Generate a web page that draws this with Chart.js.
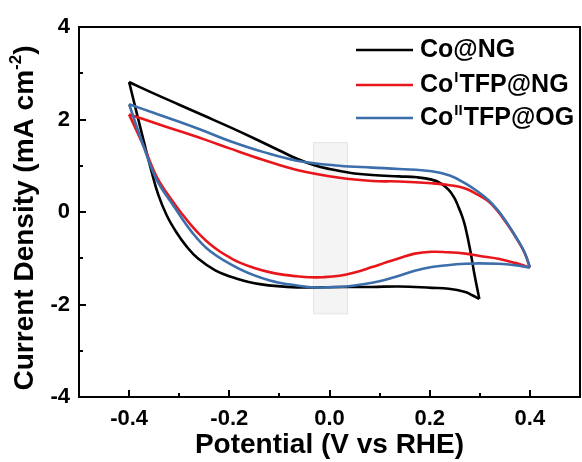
<!DOCTYPE html>
<html>
<head>
<meta charset="utf-8">
<script src="https://cdn.jsdelivr.net/npm/chart.js@4.4.1/dist/chart.umd.min.js"></script>
<style>
  html, body { margin: 0; padding: 0; background: #fff; }
  #wrap { width: 582px; height: 462px; position: relative; }
</style>
</head>
<body>
<div id="wrap"><canvas id="cvChart"></canvas></div>
<script>
// CV curves, potential (V vs RHE) / current density (mA cm-2)

// Co@NG
const coNG_upV = [-0.40, -0.35, -0.30, -0.25, -0.20, -0.15, -0.10, -0.065, -0.03, 0.00, 0.04, 0.085, 0.139, 0.175, 0.204, 0.222, 0.238, 0.249, 0.257, 0.265, 0.271, 0.281, 0.289, 0.299];
const coNG_upJ = [2.81, 2.56, 2.32, 2.08, 1.84, 1.59, 1.33, 1.15, 1.01, 0.93, 0.85, 0.80, 0.77, 0.75, 0.70, 0.62, 0.48, 0.31, 0.12, -0.10, -0.32, -0.83, -1.33, -1.88];
const coNG_dnV = [0.299, 0.285, 0.271, 0.238, 0.204, 0.139, 0.085, 0.02, -0.065, -0.139, -0.188, -0.228, -0.263, -0.285, -0.305, -0.325, -0.342, -0.356, -0.37, -0.385, -0.40];
const coNG_dnJ = [-1.88, -1.80, -1.73, -1.66, -1.64, -1.61, -1.62, -1.62, -1.63, -1.56, -1.43, -1.26, -1.00, -0.75, -0.45, -0.07, 0.38, 0.91, 1.50, 2.15, 2.81];

// CoI TFP@NG
const coI_upV = [-0.40, -0.35, -0.30, -0.25, -0.198, -0.133, -0.065, 0.02, 0.085, 0.139, 0.204, 0.24, 0.271, 0.295, 0.317, 0.335, 0.350, 0.364, 0.376, 0.386, 0.393, 0.40];
const coI_upJ = [2.11, 1.93, 1.75, 1.57, 1.37, 1.13, 0.91, 0.74, 0.67, 0.66, 0.62, 0.58, 0.51, 0.38, 0.23, 0.03, -0.19, -0.41, -0.62, -0.81, -0.98, -1.20];
const coI_dnV = [0.40, 0.37, 0.337, 0.30, 0.271, 0.235, 0.204, 0.17, 0.139, 0.11, 0.085, 0.05, 0.02, -0.014, -0.04, -0.065, -0.09, -0.12, -0.15, -0.178, -0.198, -0.218, -0.24, -0.258, -0.275, -0.293, -0.311, -0.343, -0.37, -0.40];
const coI_dnJ = [-1.20, -1.10, -1.01, -0.95, -0.90, -0.87, -0.86, -0.90, -1.00, -1.10, -1.19, -1.31, -1.38, -1.41, -1.41, -1.39, -1.36, -1.30, -1.21, -1.10, -0.99, -0.86, -0.68, -0.50, -0.30, -0.06, 0.20, 0.72, 1.40, 2.11];

// CoII TFP@OG
const coII_upV = [-0.40, -0.35, -0.30, -0.25, -0.198, -0.133, -0.065, 0.02, 0.085, 0.139, 0.204, 0.24, 0.271, 0.295, 0.317, 0.335, 0.350, 0.364, 0.376, 0.386, 0.393, 0.40];
const coII_upJ = [2.33, 2.14, 1.95, 1.75, 1.53, 1.30, 1.11, 1.00, 0.96, 0.93, 0.88, 0.79, 0.62, 0.45, 0.26, 0.05, -0.17, -0.40, -0.61, -0.80, -0.97, -1.20];
const coII_dnV = [0.40, 0.37, 0.337, 0.30, 0.271, 0.235, 0.204, 0.17, 0.139, 0.11, 0.085, 0.05, 0.02, -0.03, -0.065, -0.119, -0.178, -0.238, -0.275, -0.311, -0.345, -0.372, -0.40];
const coII_dnJ = [-1.20, -1.15, -1.12, -1.11, -1.12, -1.15, -1.19, -1.27, -1.38, -1.47, -1.53, -1.59, -1.62, -1.63, -1.59, -1.48, -1.24, -0.85, -0.43, 0.13, 0.70, 1.45, 2.33];

// faint grey band near 0 V
const shadeV = [-0.032, 0.036, 0.036, -0.032, -0.032];
const shadeJ = [1.5, 1.5, -2.2, -2.2, 1.5];

// legend labels: base + superscript + tail
const labelBase = ['Co@NG', 'Co', 'Co'];
const labelSup = ['', 'I', 'II'];
const labelTail = ['', 'TFP@NG', 'TFP@OG'];
const seriesColors = ['#000000', '#e8161b', '#3b6eaa'];

const xTicks = [-0.4, -0.2, 0.0, 0.2, 0.4];
const xMinor = [-0.3, -0.1, 0.1, 0.3];
const yTicks = [-4, -2, 0, 2, 4];
const yMinor = [-3, -1, 1, 3];

const FONT = "'Liberation Sans', Arial, sans-serif";

const pts = (xs, ys) => xs.map((x, i) => ({ x: x, y: ys[i] }));

function curve(xs, ys, color, order) {
    return {
        data: pts(xs, ys),
        borderColor: color,
        borderWidth: 2.6,
        pointRadius: 0,
        tension: 0.4,
        fill: false,
        order: order
    };
}

// inward ticks, frame, y title and legend
const framePlugin = {
    id: 'frame',
    afterDraw(chart) {
        const { ctx, chartArea: a, scales } = chart;
        ctx.save();
        ctx.strokeStyle = '#000';
        ctx.lineWidth = 2;
        ctx.beginPath();
        const tick = (vals, len, axis) => {
            vals.forEach(v => {
                if (axis === 'x') {
                    const px = Math.round(scales.x.getPixelForValue(v));
                    ctx.moveTo(px, a.bottom);
                    ctx.lineTo(px, a.bottom - len);
                } else {
                    const py = Math.round(scales.y.getPixelForValue(v));
                    ctx.moveTo(a.left, py);
                    ctx.lineTo(a.left + len, py);
                }
            });
        };
        tick(xTicks, 7, 'x');
        tick(xMinor, 4, 'x');
        tick(yTicks, 7, 'y');
        tick(yMinor, 4, 'y');
        ctx.stroke();
        ctx.strokeRect(a.left, a.top, a.right - a.left, a.bottom - a.top);

        // y axis title with superscript
        ctx.fillStyle = '#000';
        ctx.translate(25, (a.top + a.bottom) / 2 + 6);
        ctx.rotate(-Math.PI / 2);
        ctx.textBaseline = 'middle';
        const main = 'Current Density (mA cm';
        ctx.font = 'bold 28px ' + FONT;
        const wMain = ctx.measureText(main).width;
        ctx.font = 'bold 17px ' + FONT;
        const wSup = ctx.measureText('-2').width;
        ctx.font = 'bold 28px ' + FONT;
        const wEnd = ctx.measureText(')').width;
        let x0 = -(wMain + wSup + wEnd) / 2;
        ctx.textAlign = 'left';
        ctx.fillText(main, x0, 0);
        ctx.font = 'bold 17px ' + FONT;
        ctx.fillText('-2', x0 + wMain, -9);
        ctx.font = 'bold 28px ' + FONT;
        ctx.fillText(')', x0 + wMain + wSup, 0);
        ctx.restore();

        // legend
        ctx.save();
        ctx.textBaseline = 'middle';
        ctx.textAlign = 'left';
        const rowY = [50, 85, 118];
        labelBase.forEach((b, i) => {
            const y = rowY[i];
            ctx.strokeStyle = seriesColors[i];
            ctx.lineWidth = 2.6;
            ctx.beginPath();
            ctx.moveTo(356, y);
            ctx.lineTo(413, y);
            ctx.stroke();
            ctx.fillStyle = '#000';
            ctx.font = 'bold 25px ' + FONT;
            let tx = 420;
            ctx.fillText(b, tx, y);
            tx += ctx.measureText(b).width;
            if (labelSup[i]) {
                ctx.font = 'bold 15px ' + FONT;
                ctx.fillText(labelSup[i], tx + 1, y - 7);
                tx += ctx.measureText(labelSup[i]).width + 2;
                ctx.font = 'bold 25px ' + FONT;
                ctx.fillText(labelTail[i], tx, y);
            }
        });
        ctx.restore();
    }
};

const ctx = document.getElementById('cvChart').getContext('2d');
new Chart(ctx, {
    type: 'line',
    data: {
        datasets: [
            {
                data: pts(shadeV, shadeJ),
                borderColor: '#e4e4e4',
                borderWidth: 1,
                backgroundColor: '#f4f4f4',
                pointRadius: 0,
                tension: 0,
                fill: 'shape',
                order: 10
            },
            curve(coNG_upV, coNG_upJ, seriesColors[0], 3),
            curve(coNG_dnV, coNG_dnJ, seriesColors[0], 3),
            curve(coI_upV, coI_upJ, seriesColors[1], 2),
            curve(coI_dnV, coI_dnJ, seriesColors[1], 2),
            curve(coII_upV, coII_upJ, seriesColors[2], 1),
            curve(coII_dnV, coII_dnJ, seriesColors[2], 1)
        ]
    },
    options: {
        responsive: true,
        maintainAspectRatio: false,
        animation: false,
        layout: { padding: { top: 27, right: 2, left: 0, bottom: 0 } },
        plugins: {
            legend: { display: false },
            tooltip: { enabled: false }
        },
        scales: {
            x: {
                type: 'linear',
                min: -0.5,
                max: 0.5,
                afterBuildTicks: s => { s.ticks = xTicks.map(v => ({ value: v })); },
                afterFit: s => { s.height = 65; },
                grid: { display: false, drawTicks: false },
                border: { display: false },
                ticks: {
                    padding: 9,
                    color: '#000',
                    font: { family: FONT, size: 22, weight: 'bold' },
                    callback: v => v.toFixed(1)
                },
                title: {
                    display: true,
                    text: 'Potential (V vs RHE)',
                    color: '#000',
                    padding: { top: 0, bottom: 0 },
                    font: { family: FONT, size: 28, weight: 'bold' }
                }
            },
            y: {
                type: 'linear',
                min: -4,
                max: 4,
                afterBuildTicks: s => { s.ticks = yTicks.map(v => ({ value: v })); },
                afterFit: s => { s.width = 79; },
                grid: { display: false, drawTicks: false },
                border: { display: false },
                ticks: {
                    padding: 9,
                    color: '#000',
                    font: { family: FONT, size: 22, weight: 'bold' },
                    callback: v => String(v)
                }
            }
        }
    },
    plugins: [framePlugin]
});
</script>
</body>
</html>
